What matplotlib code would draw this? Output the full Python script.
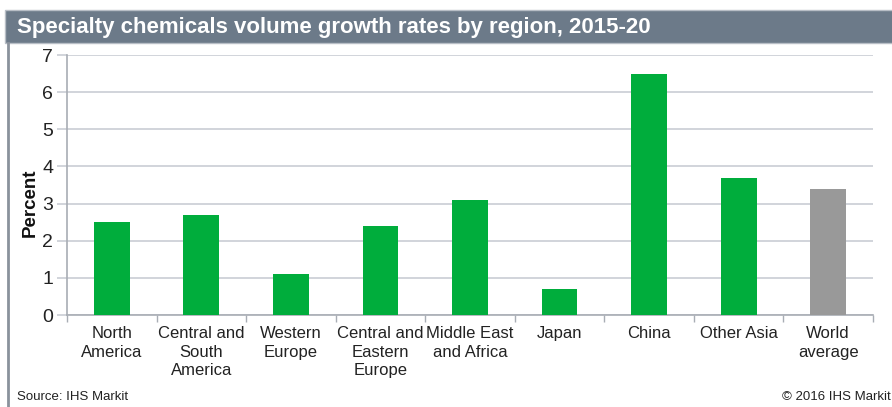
import matplotlib.pyplot as plt
import numpy as np
from matplotlib.patches import Rectangle
from matplotlib.lines import Line2D

regions = ["North\nAmerica", "Central and\nSouth\nAmerica", "Western\nEurope",
           "Central and\nEastern\nEurope", "Middle East\nand Africa", "Japan",
           "China", "Other Asia", "World\naverage"]
growth = [2.5, 2.7, 1.1, 2.4, 3.1, 0.7, 6.5, 3.7, 3.4]
colors = ["#00ad3c"] * 8 + ["#999999"]

plt.rcParams["font.family"] = ["Liberation Sans", "DejaVu Sans"]

W, H = 892, 407
fig = plt.figure(figsize=(W / 100, H / 100), dpi=100)

# title bar and frame
fig.patches.append(Rectangle((5 / W, 1 - 43 / H), 1, 33 / H, transform=fig.transFigure,
                             facecolor="#6c7a89", edgecolor="#b8bec6", lw=1))
fig.text(17 / W, 1 - 27 / H, "Specialty chemicals volume growth rates by region, 2015-20",
         color="white", fontsize=16, fontweight="bold", va="center", ha="left")
fig.lines.append(Line2D([8 / W, 8 / W], [0, 1 - 43 / H], transform=fig.transFigure,
                        color="#8a929c", lw=2))

ax = fig.add_axes([67 / W, 1 - 315 / H, (873 - 67) / W, (315 - 55) / H])
x = np.arange(len(regions))
ax.bar(x, growth, width=0.4, color=colors, zorder=3)

ax.set_xlim(-0.5, len(regions) - 0.5)
ax.set_ylim(0, 7)
ax.set_yticks(range(0, 8))
ax.yaxis.grid(True, color="#c9cdd4", lw=1.2, zorder=0)
ax.tick_params(axis="y", labelsize=14, length=7, color="#c9cdd4", width=1.2, pad=3,
               labelcolor="#222222")
ax.set_xticks(x)
ax.set_xticklabels(regions, fontsize=12, linespacing=1.3, color="#222222")
ax.set_xticks(np.arange(len(regions) + 1) - 0.5, minor=True)
ax.tick_params(axis="x", which="major", length=0, pad=8)
ax.tick_params(axis="x", which="minor", length=5, color="#a8adb4", width=1)
for s in ["top", "right"]:
    ax.spines[s].set_visible(False)
for s in ["left", "bottom"]:
    ax.spines[s].set_color("#a8adb4")
    ax.spines[s].set_linewidth(1.2)

fig.text(30 / W, 1 - 203 / H, "Percent", rotation=90, fontsize=13.5, fontweight="bold",
         va="center", ha="center", color="#111111")
fig.text(17 / W, 1 - 397 / H, "Source: IHS Markit", fontsize=9.5, va="center", ha="left",
         color="#222222")
fig.text(891 / W, 1 - 397 / H, "\u00a9 2016 IHS Markit", fontsize=9.5, va="center", ha="right",
         color="#222222")

fig.savefig("out.png", dpi=100)
